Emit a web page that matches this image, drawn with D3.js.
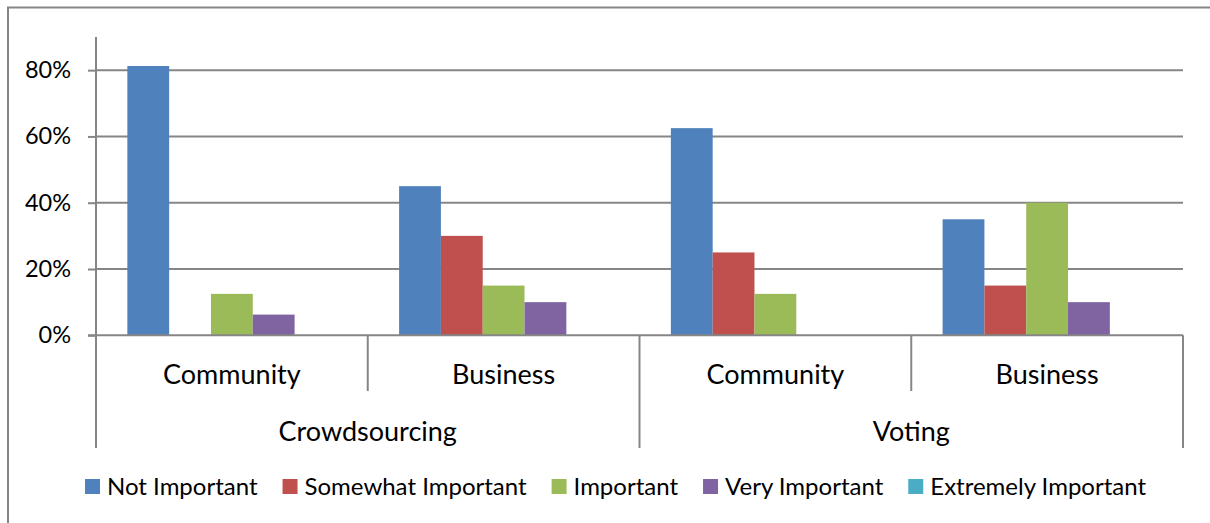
<!DOCTYPE html>
<html>
<head>
<meta charset="utf-8">
<script src="https://cdn.jsdelivr.net/npm/d3@7"></script>
<style>
  html, body { margin: 0; padding: 0; background: #fff; }
  svg { display: block; font-family: Lato, "Open Sans", sans-serif; }
</style>
</head>
<body>
<svg id="chart" width="1210" height="523"></svg>
<script>
// Outer groups and their sub-categories
const groups = ["Crowdsourcing", "Voting"];
const subCategories = ["Community", "Business"];

// Importance levels (series)
const series = ["Not Important", "Somewhat Important", "Important", "Very Important", "Extremely Important"];
const seriesColors = ["#4F81BD", "#C0504D", "#9BBB59", "#8064A2", "#4BACC6"];

// Share of responses per series, one entry per group/sub-category column
const notImportant       = [0.8125, 0.45, 0.625, 0.35];
const somewhatImportant  = [0.0,    0.30, 0.25,  0.15];
const important          = [0.125,  0.15, 0.125, 0.40];
const veryImportant      = [0.0625, 0.10, 0.0,   0.10];
const extremelyImportant = [0.0,    0.0,  0.0,   0.0];

const yTicks = [0, 0.2, 0.4, 0.6, 0.8];

const seriesValues = [notImportant, somewhatImportant, important, veryImportant, extremelyImportant];
const columns = [];
groups.forEach(g => subCategories.forEach(s => columns.push({ group: g, sub: s, key: g + "|" + s })));

const svg = d3.select("#chart");
const axisColor = "#868686";

const margin = { left: 96, right: 1183, top: 37, bottom: 335.3 };

const x0 = d3.scaleBand()
  .domain(columns.map(c => c.key))
  .range([margin.left, margin.right])
  .padding(0);

const x1 = d3.scaleBand()
  .domain(series)
  .range([0, x0.bandwidth()])
  .paddingInner(0)
  .paddingOuter(0.75);

const y = d3.scaleLinear()
  .domain([0, 0.9])
  .range([margin.bottom, margin.top]);

// Chart frame
svg.append("path")
  .attr("d", `M8,530 V7.5 H1215`)
  .attr("fill", "none")
  .attr("stroke", axisColor)
  .attr("stroke-width", 2);

// Horizontal gridlines
svg.append("g")
  .selectAll("line")
  .data(yTicks.filter(t => t > 0))
  .join("line")
  .attr("x1", margin.left)
  .attr("x2", margin.right)
  .attr("y1", d => y(d))
  .attr("y2", d => y(d))
  .attr("stroke", axisColor)
  .attr("stroke-width", 2);

// Y axis
const yAxis = d3.axisLeft(y)
  .tickValues(yTicks)
  .tickFormat(d3.format(".0%"))
  .tickSize(8)
  .tickPadding(17);

const yG = svg.append("g")
  .attr("transform", `translate(${margin.left},0)`)
  .call(yAxis);
yG.select(".domain").attr("stroke", axisColor).attr("stroke-width", 2)
  .attr("d", `M0,${y(0.9)}V${y(0)}`);
yG.selectAll(".tick line").attr("stroke", axisColor).attr("stroke-width", 2);
yG.selectAll(".tick text")
  .attr("fill", "#000")
  .style("font-size", "23.5px")
  .style("font-family", "Lato, sans-serif");

// Bars
const barG = svg.append("g");
series.forEach((s, si) => {
  barG.append("g")
    .selectAll("rect")
    .data(columns.map((c, ci) => ({ c, v: seriesValues[si][ci] })))
    .join("rect")
    .attr("x", d => x0(d.c.key) + x1(s))
    .attr("y", d => y(d.v))
    .attr("width", x1.bandwidth())
    .attr("height", d => y(0) - y(d.v))
    .attr("fill", seriesColors[si]);
});

// X axis baseline
svg.append("line")
  .attr("x1", margin.left - 8).attr("x2", margin.right)
  .attr("y1", y(0)).attr("y2", y(0))
  .attr("stroke", axisColor).attr("stroke-width", 2);

// Sub-category dividers and labels
const subBottom = 391;
const groupBottom = 448;
const boundaries = d3.range(columns.length + 1).map(i => i === columns.length ? margin.right : x0(columns[i].key));
svg.append("g")
  .selectAll("line")
  .data(boundaries)
  .join("line")
  .attr("x1", d => d).attr("x2", d => d)
  .attr("y1", y(0))
  .attr("y2", (d, i) => (i % subCategories.length === 0) ? groupBottom : subBottom)
  .attr("stroke", axisColor).attr("stroke-width", 2);

svg.append("g")
  .selectAll("text")
  .data(columns)
  .join("text")
  .attr("x", d => x0(d.key) + x0.bandwidth() / 2)
  .attr("y", 384)
  .attr("text-anchor", "middle")
  .style("font-size", "27px")
  .text(d => d.sub);

// Group labels
svg.append("g")
  .selectAll("text")
  .data(groups)
  .join("text")
  .attr("x", g => x0(g + "|" + subCategories[0]) + x0.bandwidth() * subCategories.length / 2)
  .attr("y", 441)
  .attr("text-anchor", "middle")
  .style("font-size", "27px")
  .text(d => d);

// Legend
const legend = svg.append("g");
let lx = 85;
series.forEach((s, i) => {
  const item = legend.append("g").attr("transform", `translate(${lx},0)`);
  item.append("rect")
    .attr("x", 0).attr("y", 479)
    .attr("width", 15).attr("height", 15)
    .attr("fill", seriesColors[i]);
  const t = item.append("text")
    .attr("x", 22).attr("y", 495)
    .style("font-size", "24px")
    .text(s);
  lx += 22 + t.node().getComputedTextLength() + 25;
});
</script>
</body>
</html>
